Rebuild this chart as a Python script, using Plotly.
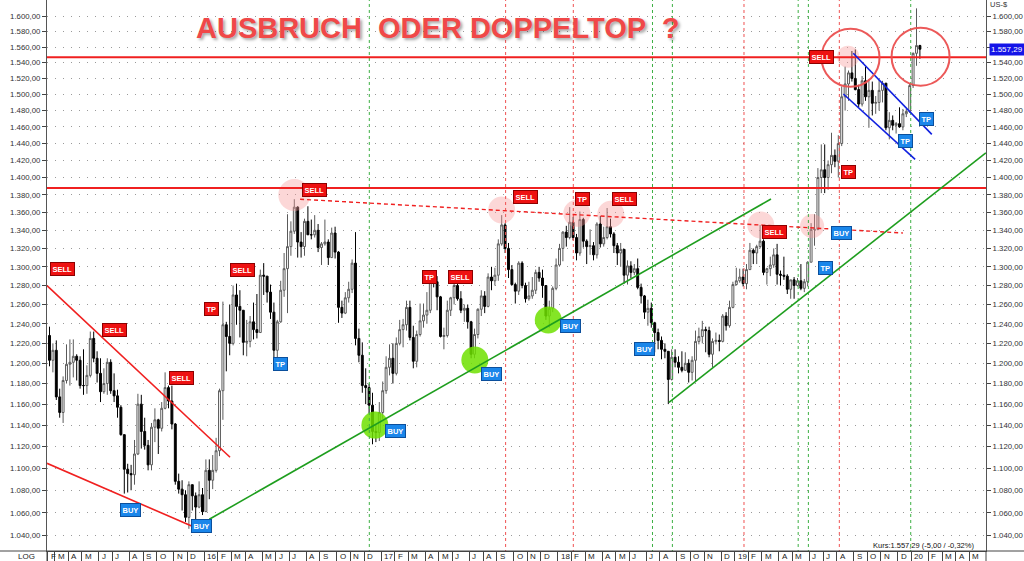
import numpy as np
import pandas as pd
import plotly.graph_objects as go

# ---------------- weekly OHLC (gold, US-$) ----------------
ohlc_2015 = [
    [1228,1237,1197,1203],[1203,1220,1191,1213],[1213,1223,1164,1167],[1167,1175,1147,1152],
    [1152,1187,1142,1183],[1183,1219,1180,1199],[1199,1224,1178,1201],[1201,1224,1186,1207],
    [1207,1209,1183,1203],[1203,1207,1175,1178],[1178,1214,1169,1178],[1178,1198,1170,1188],
    [1188,1232,1186,1225],[1225,1232,1201,1205],[1205,1212,1181,1190],[1190,1205,1162,1172],
    [1172,1195,1170,1180],[1180,1205,1169,1201],[1201,1204,1170,1173],[1173,1190,1162,1168],
    [1168,1174,1147,1157],[1157,1159,1130,1131],[1131,1131,1077,1099],[1099,1104,1078,1095],
    [1095,1103,1080,1094],[1094,1126,1085,1113],[1113,1170,1112,1160],[1160,1169,1118,1134],
    [1134,1147,1117,1121],[1121,1126,1098,1103],[1103,1142,1098,1138],[1138,1156,1124,1145],
    [1145,1146,1113,1137],[1137,1162,1134,1156],[1156,1191,1155,1176],[1176,1178,1156,1163],
    [1163,1178,1136,1141],[1141,1142,1085,1088],[1088,1095,1077,1081],[1081,1089,1062,1076],
    [1076,1080,1052,1056],[1056,1088,1046,1085],[1085,1085,1062,1075],[1075,1078,1046,1065],
    [1065,1088,1064,1076],
]
ohlc_2016 = [
    [1076,1082,1058,1061],[1061,1108,1061,1098],[1098,1108,1072,1089],[1089,1112,1081,1098],
    [1098,1128,1096,1116],[1116,1175,1111,1173],[1173,1263,1145,1239],[1239,1242,1192,1227],
    [1227,1260,1208,1220],[1220,1280,1218,1270],[1270,1282,1239,1258],[1258,1275,1226,1254],
    [1254,1254,1208,1221],[1221,1244,1207,1222],[1222,1248,1216,1242],[1242,1262,1224,1234],
    [1234,1271,1225,1231],[1231,1297,1231,1291],[1291,1304,1270,1290],[1290,1290,1262,1273],
    [1273,1281,1245,1252],[1252,1262,1200,1213],[1213,1244,1205,1242],[1242,1285,1241,1275],
    [1275,1315,1268,1298],[1298,1358,1251,1322],[1322,1350,1312,1339],[1339,1375,1336,1366],
    [1366,1367,1310,1327],[1327,1338,1310,1322],[1322,1353,1312,1350],[1350,1367,1335,1335],
    [1335,1352,1330,1335],[1335,1357,1332,1340],[1340,1347,1316,1321],[1321,1327,1302,1325],
    [1325,1352,1323,1327],[1327,1330,1302,1310],[1310,1343,1310,1337],[1337,1344,1309,1316],
    [1316,1317,1241,1257],[1257,1264,1246,1251],[1251,1273,1250,1267],[1267,1284,1262,1276],
    [1276,1308,1272,1304],[1304,1338,1218,1225],[1225,1235,1201,1208],[1208,1221,1171,1178],
    [1178,1195,1160,1176],[1176,1180,1151,1159],[1159,1171,1122,1134],[1134,1140,1124,1133],
    [1133,1162,1125,1152],
]
ohlc_2017 = [
    [1152,1182,1146,1173],[1173,1207,1170,1196],[1196,1219,1188,1205],[1205,1220,1180,1190],
    [1190,1226,1188,1220],[1220,1244,1218,1234],[1234,1245,1216,1239],[1239,1264,1233,1257],
    [1257,1264,1223,1226],[1226,1238,1195,1202],[1202,1233,1196,1229],[1229,1261,1227,1243],
    [1243,1261,1236,1249],[1249,1273,1240,1254],[1254,1289,1251,1286],[1286,1295,1278,1284],
    [1284,1290,1254,1268],[1268,1269,1226,1227],[1227,1236,1214,1228],[1228,1264,1226,1254],
    [1254,1268,1248,1267],[1267,1283,1260,1280],[1280,1296,1264,1266],[1266,1274,1251,1254],
    [1254,1260,1242,1256],[1256,1260,1235,1242],[1242,1243,1205,1209],[1209,1235,1205,1229],
    [1229,1256,1225,1255],[1255,1275,1248,1269],[1269,1274,1251,1258],[1258,1293,1257,1289],
    [1289,1300,1275,1285],[1285,1299,1280,1291],[1291,1330,1285,1325],[1325,1357,1323,1346],
    [1346,1348,1315,1320],[1320,1326,1288,1297],[1297,1302,1280,1281],[1281,1283,1261,1274],
    [1274,1306,1270,1304],[1304,1306,1277,1280],[1280,1283,1262,1266],[1266,1284,1264,1269],
    [1269,1289,1266,1275],[1275,1297,1271,1294],[1294,1300,1284,1288],[1288,1297,1267,1280],
    [1280,1280,1244,1248],[1248,1264,1236,1256],[1256,1279,1252,1277],[1277,1309,1275,1302],
]
ohlc_2018 = [
    [1302,1325,1301,1320],[1320,1339,1306,1338],[1338,1345,1322,1332],[1332,1366,1330,1349],
    [1349,1355,1329,1332],[1332,1336,1307,1315],[1315,1361,1312,1352],[1352,1354,1321,1328],
    [1328,1330,1303,1322],[1322,1341,1313,1323],[1323,1327,1307,1313],[1313,1349,1309,1347],
    [1347,1356,1321,1325],[1325,1344,1322,1332],[1332,1365,1330,1344],[1344,1353,1332,1336],
    [1336,1338,1315,1323],[1323,1326,1302,1315],[1315,1326,1300,1319],[1319,1319,1282,1291],
    [1291,1307,1281,1301],[1301,1306,1288,1294],[1294,1303,1291,1298],[1298,1309,1276,1278],
    [1278,1282,1261,1269],[1269,1270,1245,1252],[1252,1265,1238,1256],[1256,1262,1236,1241],
    [1241,1242,1211,1231],[1231,1235,1214,1223],[1223,1227,1204,1214],[1214,1220,1205,1212],
    [1212,1212,1160,1184],[1184,1214,1183,1206],[1206,1214,1196,1201],[1201,1207,1190,1196],
    [1196,1212,1191,1193],[1193,1211,1193,1200],[1200,1204,1181,1191],[1191,1207,1183,1203],
    [1203,1233,1182,1222],[1222,1236,1219,1227],[1227,1243,1220,1234],[1234,1237,1211,1233],
    [1233,1237,1206,1209],[1209,1225,1196,1222],[1222,1231,1219,1223],[1223,1229,1212,1222],
    [1222,1250,1221,1248],[1248,1252,1233,1238],[1238,1264,1236,1257],[1257,1284,1256,1281],
]
ohlc_2019 = [
    [1281,1299,1280,1285],[1285,1298,1283,1289],[1289,1298,1279,1282],[1282,1303,1276,1297],
    [1297,1326,1297,1318],[1318,1320,1303,1315],[1315,1324,1303,1322],[1322,1346,1320,1328],
    [1328,1330,1291,1294],[1294,1299,1281,1298],[1298,1311,1290,1302],[1302,1320,1299,1313],
    [1313,1325,1281,1292],[1292,1296,1280,1291],[1291,1311,1286,1290],[1290,1292,1271,1276],
    [1276,1286,1266,1286],[1286,1289,1266,1280],[1280,1288,1279,1285],[1285,1303,1275,1277],
    [1277,1287,1273,1284],[1284,1306,1279,1305],[1305,1348,1305,1341],[1341,1358,1323,1341],
    [1341,1411,1340,1400],[1400,1439,1382,1409],[1409,1439,1382,1400],[1400,1420,1386,1415],
    [1415,1453,1405,1426],[1426,1433,1412,1419],[1419,1450,1400,1440],[1440,1510,1437,1497],
    [1497,1535,1480,1513],[1513,1530,1492,1527],[1527,1555,1516,1520],[1520,1557,1505,1506],
    [1506,1512,1484,1488],[1488,1523,1485,1517],[1517,1535,1492,1497],[1497,1519,1459,1505],
    [1505,1516,1474,1489],[1489,1498,1476,1490],[1490,1518,1480,1505],[1505,1517,1490,1514],
    [1514,1514,1456,1459],[1459,1478,1445,1468],[1468,1474,1456,1462],[1462,1466,1452,1464],
    [1464,1484,1459,1460],[1460,1482,1456,1476],[1476,1482,1472,1479],[1479,1514,1477,1511],
]
ohlc_2020 = [
    [1511,1553,1508,1552],[1552,1611,1536,1562],[1562,1563,1545,1557.29],
]
first_week = "2015-02-20"          # Friday of first candle
last_price = 1557.29

# ---------------- drawings (week index, price) -----------
h_lines = [1547.0, 1388.0]
red_upper = ([-0.74, 53.1], [1280.0, 1110.0])
red_lower = ([-0.74, 41.8], [1104.4, 1048.4])
green_1 = ([47.0, 212.2], [1054.3, 1375.2])
green_2 = ([182.2, 275.4], [1161.8, 1429.0])
red_dash = ([73.7, 251.0], [1375.0, 1337.0])
blue_up = ([236.4, 259.5], [1552.0, 1451.1])
blue_lo = ([233.5, 254.6], [1500.5, 1421.3])
vl_green = [94.06, 177.35, 183.2, 220.2, 223.2, 253.3]
vl_red = [134.15, 154.06, 204.26, 232.3]

pink_w = [72.0, 133.0, 155.1, 165.1, 209.2, 224.3, 234.9]
pink_p = [1379.8, 1362.8, 1359.0, 1357.9, 1345.9, 1344.7, 1547.7]
pink_s = [32, 27, 27, 27, 27, 24, 22]
lime_w = [95.7, 125.1, 146.7]
lime_p = [1140.0, 1203.2, 1243.9]
ring_w = [235.6, 256.2]
ring_p = [1546.4, 1547.7]

sig_text = ["SELL", "SELL", "SELL", "TP", "SELL", "SELL", "TP", "SELL", "SELL", "TP", "SELL", "SELL", "SELL", "TP",
            "BUY", "BUY", "TP", "BUY", "BUY", "BUY", "BUY", "BUY", "TP", "TP", "TP"]
sig_week = [3.9, 19.0, 38.9, 47.7, 56.9, 77.9, 111.7, 121.0, 139.9, 156.8, 169.0, 213.1, 227.1, 234.9,
            23.9, 44.8, 67.8, 101.9, 130.1, 153.1, 174.9, 232.8, 228.1, 251.9, 258.0]
sig_price = [1297.6, 1233.3, 1185.7, 1255.0, 1296.6, 1385.5, 1289.4, 1289.1, 1377.2, 1375.2, 1374.9, 1338.4, 1547.7, 1406.4,
             1062.4, 1048.4, 1199.3, 1134.7, 1189.0, 1238.0, 1214.0, 1337.0, 1298.8, 1443.4, 1469.6]
sig_kind = ["r"] * 14 + ["b"] * 11

y_ticks = list(range(1040, 1601, 20))
month_letters = ["J", "F", "M", "A", "M", "J", "J", "A", "S", "O", "N", "D"]
price_label = "1.557,29"
kurs_text = "Kurs:1.557,29 (-5,00 / -0,32%)"
title_text = "AUSBRUCH  ODER DOPPELTOP  ?"

# ---------------- build ----------------
ohlc = ohlc_2015 + ohlc_2016 + ohlc_2017 + ohlc_2018 + ohlc_2019 + ohlc_2020
o = [r[0] for r in ohlc]
h = [r[1] for r in ohlc]
l = [r[2] for r in ohlc]
c = [r[3] for r in ohlc]
n = len(ohlc)
wk = list(range(n))

X_LO, X_HI = -0.735, 275.44
Y_LO, Y_HI = 1026.9, 1622.2
fridays = pd.date_range(first_week, periods=278, freq="7D")


def de_fmt(v):
    s = "{:,.2f}".format(v)
    return s.replace(",", "X").replace(".", ",").replace("X", ".")


fig = go.Figure()

fig.add_trace(go.Scatter(x=pink_w, y=pink_p, mode="markers",
                         marker=dict(size=pink_s, color="rgba(248,150,150,0.55)",
                                     line=dict(width=0)), hoverinfo="skip"))
fig.add_trace(go.Scatter(x=lime_w, y=lime_p, mode="markers",
                         marker=dict(size=27, color="rgba(110,225,0,0.85)", line=dict(width=0)),
                         hoverinfo="skip"))

for xv in vl_green:
    fig.add_trace(go.Scatter(x=[xv, xv], y=[1000, 1700], mode="lines",
                             line=dict(color="#3cb043", width=1, dash="dot"), hoverinfo="skip"))
for xv in vl_red:
    fig.add_trace(go.Scatter(x=[xv, xv], y=[1000, 1700], mode="lines",
                             line=dict(color="#f05050", width=1, dash="dot"), hoverinfo="skip"))

fig.add_trace(go.Candlestick(
    x=wk, open=o, high=h, low=l, close=c,
    increasing=dict(fillcolor="white", line=dict(color="#5a5a5a", width=1)),
    decreasing=dict(fillcolor="black", line=dict(color="black", width=1)),
    whiskerwidth=0, hoverinfo="skip"))

for hv in h_lines:
    fig.add_trace(go.Scatter(x=[-2, 280], y=[hv, hv], mode="lines",
                             line=dict(color="#f02020", width=2), hoverinfo="skip"))

for (xs, ys), col, dash, wd in [
        (red_upper, "#f02020", "solid", 1.6), (red_lower, "#f02020", "solid", 1.6),
        (green_1, "#1e9e1e", "solid", 1.6), (green_2, "#1e9e1e", "solid", 1.6),
        (red_dash, "#f02020", "4px,3px", 1.4),
        (blue_up, "#1020e0", "solid", 1.6), (blue_lo, "#1020e0", "solid", 1.6)]:
    fig.add_trace(go.Scatter(x=xs, y=ys, mode="lines",
                             line=dict(color=col, width=wd, dash=dash), hoverinfo="skip"))

fig.add_trace(go.Scatter(x=ring_w, y=ring_p, mode="markers",
                         marker=dict(size=58, color="rgba(0,0,0,0)",
                                     line=dict(color="rgba(235,80,80,0.95)", width=2)),
                         hoverinfo="skip"))

# invisible trace to activate right axis
fig.add_trace(go.Scatter(x=[wk[-1]], y=[last_price], yaxis="y2", mode="markers",
                         marker=dict(opacity=0), hoverinfo="skip"))

annotations = []
for t, xw, pr, k in zip(sig_text, sig_week, sig_price, sig_kind):
    annotations.append(dict(
        x=xw, y=np.log10(pr), xref="x", yref="y", text="<b>%s</b>" % t, showarrow=False,
        font=dict(size=7.5, color="white", family="Liberation Sans, Arial"),
        bgcolor="#ee1111" if k == "r" else "#1a86ea",
        bordercolor="#8c0000" if k == "r" else "#0b4f9c", borderwidth=1, borderpad=1.5))

tick_pos = []
prev = None
for i in range(0, 276):
    d = fridays[i]
    if d.month == 1 and d.day == 1:
        d = d - pd.Timedelta(days=1)
    key = (d.year, d.month)
    if key != prev:
        lab = month_letters[d.month - 1] if d.month != 1 else "%02d" % (d.year % 100)
        tick_pos.append(i - 0.5)
        annotations.append(dict(x=i - 0.5, y=-5.5 / 551, xref="x", yref="paper", text=lab,
                                showarrow=False, xanchor="left", yanchor="middle", xshift=1,
                                font=dict(size=8, color="#222")))
        prev = key

px_w = 939.0
annotations += [
    dict(x=(26 - 47) / px_w, y=-5.5 / 551, xref="paper", yref="paper", text="LOG", showarrow=False,
         xanchor="center", yanchor="middle", font=dict(size=8, color="#222")),
    dict(x=1, y=1 - 4.5 / 551, xref="paper", yref="paper", text="US-$", showarrow=False,
         xanchor="left", yanchor="middle", xshift=2, font=dict(size=7.5, color="#333")),
    dict(x=1, y=np.log10(last_price), xref="paper", yref="y", text=price_label, showarrow=False,
         xanchor="left", yanchor="middle", xshift=3, bgcolor="#1414e8", borderpad=1,
         font=dict(size=8, color="white")),
    dict(x=(976 - 47) / px_w, y=(551 - 545.5) / 551, xref="paper", yref="paper",
         text=kurs_text, showarrow=False, xanchor="right", yanchor="middle",
         font=dict(size=7.5, color="#111")),
    dict(x=(437.5 - 47) / px_w, y=1 - 28 / 551, xref="paper", yref="paper",
         text=title_text, showarrow=False, xanchor="center", yanchor="middle",
         font=dict(size=29, color="#f04848", family="Liberation Sans, Arial", weight="bold",
                   shadow="2px 2px 3px rgba(0,0,0,0.35)")),
]

yax = dict(type="log", range=[np.log10(Y_LO), np.log10(Y_HI)], tickvals=y_ticks,
           ticks="outside", ticklen=4, tickcolor="#444",
           showline=True, linecolor="#555", linewidth=1, zeroline=False,
           tickfont=dict(size=7.8, color="#333"))

left_text = [de_fmt(v) for v in y_ticks]
# on the right the 1.560,00 label sits under the current-price box
right_text = ["" if abs(v - 1560) < 1e-6 else de_fmt(v) for v in y_ticks]

band = 10 / 551
fig.update_layout(
    width=1024, height=561, margin=dict(l=47, r=38, t=0, b=10),
    paper_bgcolor="white", plot_bgcolor="white", showlegend=False,
    separators=",.", font=dict(family="Liberation Sans, Arial", color="#333"),
    boxgap=0.2,
    xaxis=dict(range=[X_LO, X_HI], tickvals=tick_pos, showticklabels=False, ticks="outside",
               ticklen=10, tickcolor="#444", tickwidth=1, showgrid=False, zeroline=False,
               showline=True, linecolor="#444", rangeslider=dict(visible=False)),
    yaxis=dict(side="left", showgrid=True, gridcolor="#9a9a9a", griddash="1px,7px", gridwidth=1,
               ticktext=left_text, **yax),
    yaxis2=dict(side="right", overlaying="y", showgrid=False, ticktext=right_text, **yax),
    annotations=annotations,
    shapes=[dict(type="line", xref="paper", yref="paper", x0=-47 / px_w, x1=1 + 38 / px_w,
                 y0=0, y1=0, line=dict(color="#444", width=1)),
            dict(type="line", xref="paper", yref="paper", x0=0, x1=0, y0=-band, y1=0,
                 line=dict(color="#444", width=1)),
            dict(type="line", xref="paper", yref="paper", x0=1, x1=1, y0=-band, y1=0,
                 line=dict(color="#444", width=1))],
    hovermode=False,
)

fig.write_html("out.html", config=dict(displayModeBar=False),
               post_script="document.body.style.margin='0';document.body.style.overflow='hidden';")
